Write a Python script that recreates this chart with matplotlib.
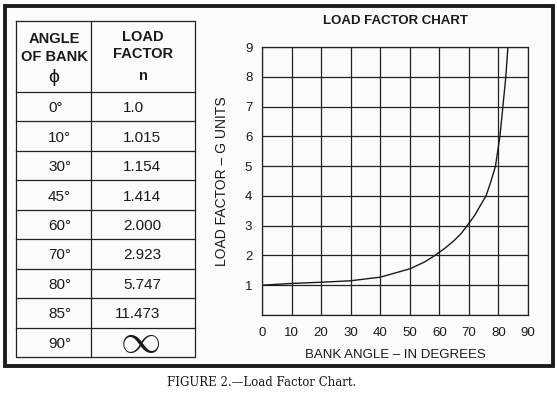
import matplotlib
matplotlib.use('Agg')
import matplotlib.pyplot as plt
from matplotlib.patches import Rectangle

plt.rcParams['font.family'] = ['Liberation Sans', 'DejaVu Sans']

# table values
table_angles = ['0°', '10°', '30°', '45°', '60°', '70°', '80°', '85°', '90°']
table_factors = ['1.0', '1.015', '1.154', '1.414', '2.000', '2.923', '5.747', '11.473', '∞']

# curve
bank_angle = [0, 10, 20, 30, 40, 50, 55, 58.5, 62, 65, 67.5, 69.4, 72, 74, 75.8,
              77.5, 79.0, 80.5, 81.5, 82.5, 83.2]
load_factor = [1.0, 1.06, 1.1, 1.15, 1.27, 1.55, 1.78, 2.0, 2.25, 2.5, 2.75, 3.0,
               3.35, 3.7, 4.0, 4.5, 5.0, 6.0, 7.0, 8.0, 9.0]

W, H = 557, 395
fig = plt.figure(figsize=(W / 100, H / 100), dpi=100)
fig.patch.set_facecolor('white')

# background layer in pixel coordinates
bg = fig.add_axes([0, 0, 1, 1])
bg.set_xlim(0, W)
bg.set_ylim(H, 0)
bg.axis('off')
bg.add_patch(Rectangle((5, 6), 548, 360, facecolor='#fbfbfb',
                       edgecolor='#1c1c1c', lw=2.8))

# table grid
line_kw = dict(color='#222222', lw=0.9)
tl, tm, tr = 16, 91, 195
top, head_bot, bot = 21, 92, 357
row_h = (bot - head_bot) / len(table_angles)
bg.plot([tl, tr, tr, tl, tl], [top, top, bot, bot, top], **line_kw)
bg.plot([tm, tm], [top, bot], **line_kw)
for i in range(len(table_angles)):
    y = head_bot + i * row_h
    bg.plot([tl, tr], [y, y], **line_kw)

hdr = dict(fontsize=10.5, fontweight='bold', ha='center', va='center', color='#1a1a1a')
bg.text(54, 39, 'ANGLE', **hdr)
bg.text(54, 57, 'OF BANK', **hdr)
bg.text(54, 77, 'ϕ', fontsize=14, ha='center', va='center', color='#1a1a1a')
bg.text(143, 37, 'LOAD', **hdr)
bg.text(143, 54, 'FACTOR', **hdr)
bg.text(143, 76, 'n', fontsize=10.5, fontweight='bold', ha='center', va='center',
        color='#1a1a1a')

for i, (a, f) in enumerate(zip(table_angles, table_factors)):
    yc = head_bot + (i + 0.55) * row_h
    bg.text(48, yc, a, fontsize=11, ha='left', va='center', color='#1a1a1a')
    if f == '∞':
        bg.text(140, yc - 3, r'$\infty$', fontsize=29, ha='center', va='center',
                color='#1a1a1a', math_fontfamily='cm')
    else:
        ndig = len(f.split('.')[0])
        bg.text(123 - 8 * (ndig - 1), yc, f, fontsize=11, ha='left', va='center',
                color='#1a1a1a')

bg.text(262, 383, 'FIGURE 2.—Load Factor Chart.', fontsize=8.5, ha='center',
        va='center', family='DejaVu Serif', color='#1a1a1a')

# chart
ax = fig.add_axes([262 / W, (H - 315) / H, 266 / W, 268 / H])
ax.patch.set_visible(False)
ax.plot(bank_angle, load_factor, color='#1a1a1a', lw=1.0)
ax.set_xlim(0, 90)
ax.set_ylim(0, 9)
ax.set_xticks(range(0, 91, 10))
ax.set_yticks(range(0, 10))
ax.set_yticklabels([''] + [str(v) for v in range(1, 10)])
ax.grid(True, color='#222222', lw=0.9)
ax.tick_params(length=0, labelsize=9.5, colors='#1a1a1a')
ax.tick_params(axis='x', pad=8.5)
ax.tick_params(axis='y', pad=7)
for s in ax.spines.values():
    s.set_color('#222222')
    s.set_linewidth(0.9)
ax.set_title('LOAD FACTOR CHART', fontsize=9.5, fontweight='bold', pad=16.5,
             color='#1a1a1a')
ax.set_xlabel('BANK ANGLE – IN DEGREES', fontsize=9.5, labelpad=7, color='#1a1a1a')
ax.set_ylabel('LOAD FACTOR – G UNITS', fontsize=10, labelpad=11, color='#1a1a1a')

fig.savefig('out.png', dpi=100)
plt.close(fig)
